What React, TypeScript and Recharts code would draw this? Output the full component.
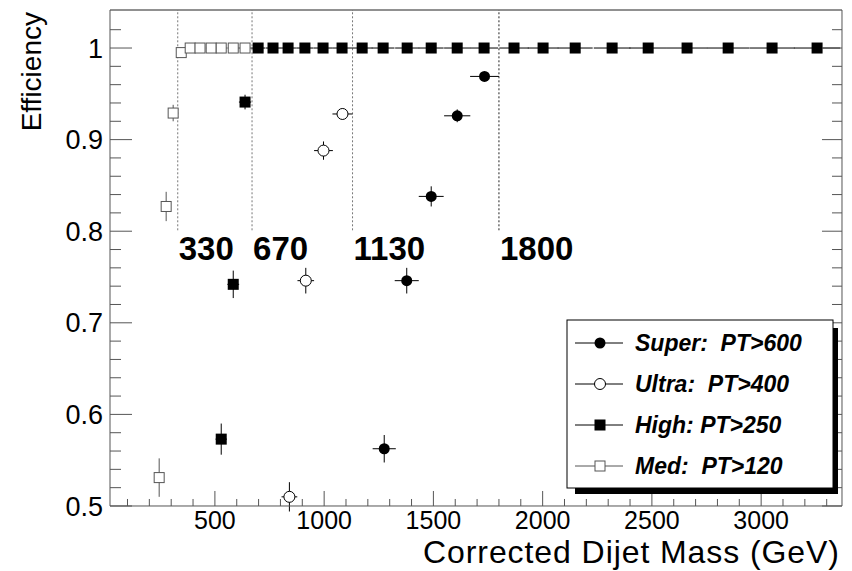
import React from "react";
import { ScatterChart, Scatter, XAxis, YAxis, ErrorBar, ReferenceLine, Legend } from "recharts";

// trigger samples: corrected dijet mass (GeV), efficiency, half bin width, stat error
const superMass = [1275, 1378, 1490, 1609, 1734];
const superEff = [0.5625, 0.746, 0.838, 0.926, 0.969];
const superMassErr = [53, 55, 57, 60, 66];
const superEffErr = [0.015, 0.014, 0.011, 0.007, 0.004];

const ultraMass = [841, 916, 997, 1084];
const ultraEff = [0.51, 0.746, 0.888, 0.928];
const ultraMassErr = [36, 38, 43, 46];
const ultraEffErr = [0.016, 0.014, 0.01, 0.006];

const highMass = [529, 584, 638, 698, 766, 835, 912, 995, 1082, 1174, 1270, 1380, 1490, 1609, 1732, 1869, 2002, 2149, 2318, 2483, 2661, 2849, 3050, 3256];
const highEff = [0.573, 0.742, 0.941, 1, 1, 1, 1, 1, 1, 1, 1, 1, 1, 1, 1, 1, 1, 1, 1, 1, 1, 1, 1, 1];
const highMassErr = [26, 27, 28, 32, 34, 36, 40, 42, 45, 47, 52, 55, 57, 60, 64, 67, 70, 80, 84, 86, 92, 97, 103, 106];
const highEffErr = [0.017, 0.015, 0.008, 0, 0, 0, 0, 0, 0, 0, 0, 0, 0, 0, 0, 0, 0, 0, 0, 0, 0, 0, 0, 0];

const medMass = [245, 277, 309, 346, 387, 432, 483, 529, 584, 638];
const medEff = [0.531, 0.827, 0.929, 0.995, 1, 1, 1, 1, 1, 1];
const medMassErr = [15, 16, 17, 19, 21, 23, 24, 26, 27, 28];
const medEffErr = [0.021, 0.016, 0.009, 0.003, 0, 0, 0, 0, 0, 0];

const thresholds = [330, 670, 1130, 1800];
const legendOrder = ["Super:  PT>600", "Ultra:  PT>400", "High: PT>250", "Med:  PT>120"];

const X_DOMAIN: [number, number] = [20, 3370];
const Y_DOMAIN: [number, number] = [0.5, 1.0415];
const THRESH_LOW = 0.801;
const THIN = 0.01; // axes must have a positive size to be drawn

// every 100 GeV / every 0.02, labelled at 500 GeV / 0.1
const xTicksAll = Array.from({ length: 33 }, (_, i) => (i + 1) * 100);
const yTicksAll = Array.from({ length: 27 }, (_, i) => +(0.5 + i * 0.02).toFixed(2));
const isMajorX = (v: number) => v % 500 === 0;
const isMajorY = (v: number) => Math.abs(v * 10 - Math.round(v * 10)) < 1e-6;

const toPoints = (m: number[], e: number[], me: number[], ee: number[]) =>
  m.map((x, i) => ({ x, y: e[i], ex: me[i], ey: ee[i] }));

const superData = toPoints(superMass, superEff, superMassErr, superEffErr);
const ultraData = toPoints(ultraMass, ultraEff, ultraMassErr, ultraEffErr);
const highData = toPoints(highMass, highEff, highMassErr, highEffErr);
const medData = toPoints(medMass, medEff, medMassErr, medEffErr);

const FONT = "'Liberation Sans', Arial, Helvetica, sans-serif";
const AXIS = "#555";
const MED = "#555";

const FilledCircle = (p: any) => <circle cx={p.cx} cy={p.cy} r={5.5} fill="#000" />;
const OpenCircle = (p: any) => (
  <circle cx={p.cx} cy={p.cy} r={5.5} fill="#fff" stroke="#000" strokeWidth={1} />
);
const FilledSquare = (p: any) => (
  <rect x={p.cx - 5.5} y={p.cy - 5.5} width={11} height={11} fill="#000" />
);
const OpenSquare = (p: any) => (
  <rect x={p.cx - 5} y={p.cy - 5} width={10} height={10} fill="#fff" stroke={MED} strokeWidth={1} />
);

// ROOT-style ticks: drawn inside the frame, labels only on the bottom / left
const BottomTick = (p: any) => {
  const v = p.payload.value;
  const major = isMajorX(v);
  return (
    <g>
      <line x1={p.x} x2={p.x} y1={p.y} y2={p.y - (major ? 15 : 7)} stroke={AXIS} />
      {major && (
        <text x={p.x} y={p.y + 5} dy="0.71em" textAnchor="middle" fontSize={25} fontFamily={FONT} fill="#000">
          {v}
        </text>
      )}
    </g>
  );
};
const TopTick = (p: any) => {
  const major = isMajorX(p.payload.value);
  return <line x1={p.x} x2={p.x} y1={p.y} y2={p.y + (major ? 16 : 7)} stroke={AXIS} />;
};
const LeftTick = (p: any) => {
  const v = p.payload.value;
  const major = isMajorY(v);
  return (
    <g>
      <line x1={p.x} x2={p.x + (major ? 22 : 11)} y1={p.y} y2={p.y} stroke={AXIS} />
      {major && (
        <text x={p.x - 7} y={p.y} dy="0.355em" textAnchor="end" fontSize={27} fontFamily={FONT} fill="#000">
          {v === 1 ? "1" : v.toFixed(1)}
        </text>
      )}
    </g>
  );
};
const RightTick = (p: any) => {
  const major = isMajorY(p.payload.value);
  return <line x1={p.x} x2={p.x - (major ? 20 : 10)} y1={p.y} y2={p.y} stroke={AXIS} />;
};

const legendKinds: Record<string, { shape: (p: any) => React.ReactElement; color: string }> = {
  "Super:  PT>600": { shape: FilledCircle, color: "#000" },
  "Ultra:  PT>400": { shape: OpenCircle, color: "#000" },
  "High: PT>250": { shape: FilledSquare, color: "#000" },
  "Med:  PT>120": { shape: OpenSquare, color: MED },
};

const renderLegend = (props: any) => {
  const names = new Set((props.payload ?? []).map((p: any) => p.value));
  const items = legendOrder.filter((n) => names.has(n));
  return (
    <svg width={290} height={190} style={{ display: "block" }}>
      <rect x={15} y={16} width={263} height={166} fill="#000" />
      <rect x={7} y={8} width={266} height={168} fill="#fff" stroke="#000" strokeWidth={1} />
      {items.map((name, i) => {
        const kind = legendKinds[name];
        const cy = 31 + i * 41;
        return (
          <g key={name}>
            <line x1={15} x2={63} y1={cy} y2={cy} stroke={kind.color} strokeWidth={1} />
            {kind.shape({ cx: 40, cy })}
            <text
              x={75}
              y={cy + 8}
              fontSize={23}
              fontWeight="bold"
              fontStyle="italic"
              fontFamily={FONT}
              fill="#000"
              style={{ whiteSpace: "pre" }}
            >
              {name}
            </text>
          </g>
        );
      })}
    </svg>
  );
};

const thresholdLabel = (text: string) => (props: any) => {
  const vb = props.viewBox;
  return (
    <text x={vb.x + 1} y={vb.y + vb.height + 30} fontSize={33} fontWeight="bold" fontFamily={FONT} fill="#000">
      {text}
    </text>
  );
};

const xTitle = () => (
  <text x={839} y={563} textAnchor="end" fontSize={32} textLength={416} fontFamily={FONT} fill="#000">
    Corrected Dijet Mass (GeV)
  </text>
);

const yTitle = () => (
  <text x={41} y={12} transform="rotate(-90, 41, 12)" textAnchor="end" fontSize={28} fontFamily={FONT} fill="#000">
    Efficiency
  </text>
);

export default function App() {
  return (
    <div style={{ position: "absolute", left: 0, top: 0, background: "#fff" }}>
      <ScatterChart
        width={852}
        height={571}
        margin={{ top: 10, right: 10, bottom: 65, left: 110 }}
        style={{ fontFamily: FONT }}
      >
        <XAxis
          xAxisId="main"
          dataKey="x"
          type="number"
          domain={X_DOMAIN}
          allowDataOverflow
          ticks={xTicksAll}
          interval={0}
          height={THIN}
          tickSize={0}
          tickMargin={0}
          tickLine={false}
          axisLine={{ stroke: AXIS }}
          tick={BottomTick}
          label={xTitle}
        />
        <XAxis
          xAxisId="top"
          orientation="top"
          type="number"
          domain={X_DOMAIN}
          allowDataOverflow
          ticks={xTicksAll}
          interval={0}
          height={THIN}
          tickSize={0}
          tickMargin={0}
          tickLine={false}
          axisLine={{ stroke: "#222" }}
          tick={TopTick}
        />
        <YAxis
          yAxisId="main"
          dataKey="y"
          type="number"
          domain={Y_DOMAIN}
          allowDataOverflow
          ticks={yTicksAll}
          interval={0}
          width={THIN}
          tickSize={0}
          tickMargin={0}
          tickLine={false}
          axisLine={{ stroke: AXIS }}
          tick={LeftTick}
          label={yTitle}
        />
        <YAxis
          yAxisId="right"
          orientation="right"
          type="number"
          domain={Y_DOMAIN}
          allowDataOverflow
          ticks={yTicksAll}
          interval={0}
          width={THIN}
          tickSize={0}
          tickMargin={0}
          tickLine={false}
          axisLine={{ stroke: AXIS }}
          tick={RightTick}
        />

        {thresholds.map((t, i) => (
          <ReferenceLine
            key={t}
            xAxisId="main"
            yAxisId="main"
            segment={[
              { x: t, y: THRESH_LOW },
              { x: t, y: Y_DOMAIN[1] },
            ]}
            stroke={i === thresholds.length - 1 ? "#222" : "#777"}
            strokeDasharray="2 2"
            strokeWidth={1}
            label={thresholdLabel(String(t))}
          />
        ))}

        <Scatter name="Med:  PT>120" data={medData} xAxisId="main" yAxisId="main" shape={OpenSquare} isAnimationActive={false}>
          <ErrorBar dataKey="ex" direction="x" width={0} stroke={MED} strokeWidth={1} />
          <ErrorBar dataKey="ey" direction="y" width={0} stroke={MED} strokeWidth={1} />
        </Scatter>
        <Scatter name="High: PT>250" data={highData} xAxisId="main" yAxisId="main" shape={FilledSquare} isAnimationActive={false}>
          <ErrorBar dataKey="ex" direction="x" width={0} stroke="#000" strokeWidth={1} />
          <ErrorBar dataKey="ey" direction="y" width={0} stroke="#000" strokeWidth={1} />
        </Scatter>
        <Scatter name="Ultra:  PT>400" data={ultraData} xAxisId="main" yAxisId="main" shape={OpenCircle} isAnimationActive={false}>
          <ErrorBar dataKey="ex" direction="x" width={0} stroke="#000" strokeWidth={1} />
          <ErrorBar dataKey="ey" direction="y" width={0} stroke="#000" strokeWidth={1} />
        </Scatter>
        <Scatter name="Super:  PT>600" data={superData} xAxisId="main" yAxisId="main" shape={FilledCircle} isAnimationActive={false}>
          <ErrorBar dataKey="ex" direction="x" width={0} stroke="#000" strokeWidth={1} />
          <ErrorBar dataKey="ey" direction="y" width={0} stroke="#000" strokeWidth={1} />
        </Scatter>

        <Legend
          layout="horizontal"
          verticalAlign="middle"
          align="center"
          content={renderLegend}
          wrapperStyle={{ position: "absolute", left: 560, top: 312, width: 290, height: 190 }}
        />
      </ScatterChart>
    </div>
  );
}
